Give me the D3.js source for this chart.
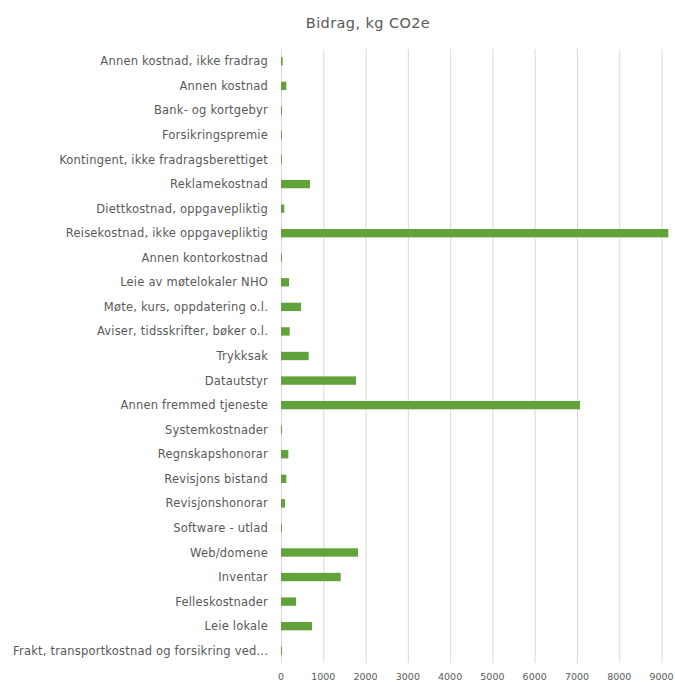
<!DOCTYPE html>
<html><head><meta charset="utf-8">
<script src="https://cdn.jsdelivr.net/npm/d3@7"></script>
<style>body{margin:0;background:#fff}svg text{font-family:"DejaVu Sans",sans-serif}</style>
</head><body><svg id="c" width="675" height="682"></svg>
<script>
const title = "Bidrag, kg CO2e";
const categories = ["Annen kostnad, ikke fradrag","Annen kostnad","Bank- og kortgebyr","Forsikringspremie","Kontingent, ikke fradragsberettiget","Reklamekostnad","Diettkostnad, oppgavepliktig","Reisekostnad, ikke oppgavepliktig","Annen kontorkostnad","Leie av møtelokaler NHO","Møte, kurs, oppdatering o.l.","Aviser, tidsskrifter, bøker o.l.","Trykksak","Datautstyr","Annen fremmed tjeneste","Systemkostnader","Regnskapshonorar","Revisjons bistand","Revisjonshonorar","Software - utlad","Web/domene","Inventar","Felleskostnader","Leie lokale","Frakt, transportkostnad og forsikring ved..."];
const values = [40,125,10,15,10,686,78,9160,10,190,473,205,655,1774,7072,10,173,125,95,10,1821,1412,355,733,15];
const ticks = [0,1000,2000,3000,4000,5000,6000,7000,8000,9000];

const svg = d3.select("#c");
const m = {left:281, right:670, top:49, bottom:663};
const x = d3.scaleLinear().domain([0,9200]).range([m.left, m.right]);
const y = d3.scaleBand().domain(categories).range([m.top, m.bottom]).paddingInner(0.66).paddingOuter(0.33);

svg.append("text").attr("x",368).attr("y",28).attr("text-anchor","middle")
  .attr("fill","#595959").attr("font-size",14.5).attr("letter-spacing",0.4).text(title);

svg.append("g").selectAll("line").data(ticks).join("line")
  .attr("x1",d=>x(d)+0.5).attr("x2",d=>x(d)+0.5).attr("y1",m.top).attr("y2",m.bottom)
  .attr("stroke","#d9d9d9").attr("stroke-width",1);

svg.append("g").selectAll("rect").data(values).join("rect")
  .attr("x",x(0)).attr("y",(d,i)=>y(categories[i]))
  .attr("width",d=>Math.max(1,x(d)-x(0))).attr("height",y.bandwidth())
  .attr("fill","#62a23a");

svg.append("g").selectAll("text").data(categories).join("text")
  .attr("x",268).attr("y",d=>y(d)+y.bandwidth()/2).attr("dy","0.35em")
  .attr("text-anchor","end").attr("fill","#595959").attr("font-size",11.5)
  .attr("letter-spacing",0.2).text(d=>d);

svg.append("g").selectAll("text").data(ticks).join("text")
  .attr("x",d=>x(d)).attr("y",677).attr("dy","0.35em").attr("text-anchor","middle")
  .attr("fill","#595959").attr("font-size",9.5).text(d=>d);
</script></body></html>
